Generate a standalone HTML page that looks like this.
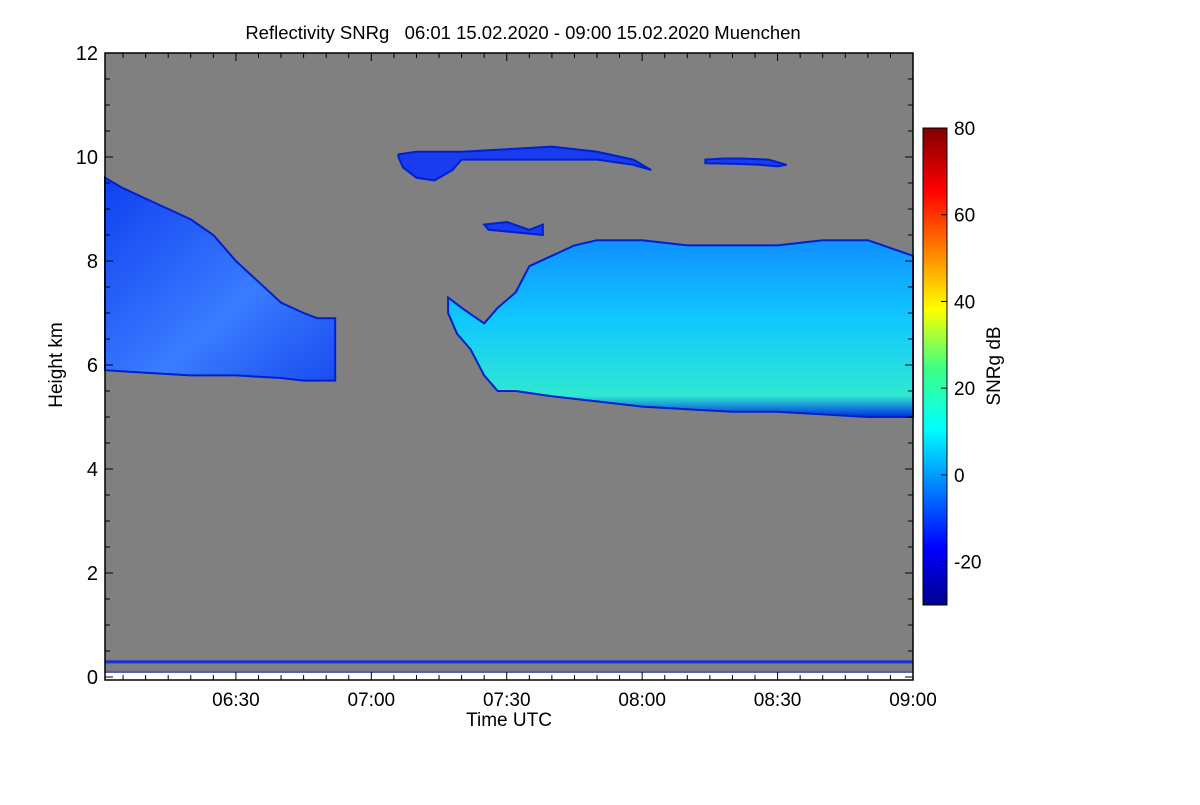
<!DOCTYPE html>
<html><head><meta charset="utf-8"><style>
body{margin:0;background:#fff;}
svg text{font-family:"Liberation Sans",sans-serif;fill:#000;}
</style></head><body>
<svg id="chart" width="1200" height="800" viewBox="0 0 1200 800" xmlns="http://www.w3.org/2000/svg">
<defs>
<linearGradient id="jet" x1="0" y1="1" x2="0" y2="0">
<stop offset="0" stop-color="#00008f"/><stop offset="0.12" stop-color="#0000ff"/><stop offset="0.37" stop-color="#00ffff"/><stop offset="0.5" stop-color="#40ff80"/><stop offset="0.62" stop-color="#ffff00"/><stop offset="0.87" stop-color="#ff0000"/><stop offset="1" stop-color="#800000"/>
</linearGradient>
<linearGradient id="c1" x1="0" y1="0" x2="1" y2="1">
<stop offset="0" stop-color="#1040f0"/><stop offset="0.6" stop-color="#3a7cff"/><stop offset="1" stop-color="#1a4cf0"/>
</linearGradient>
<linearGradient id="c2" x1="0" y1="0" x2="0" y2="1">
<stop offset="0" stop-color="#1090ff"/><stop offset="0.45" stop-color="#10c8ff"/><stop offset="0.88" stop-color="#30e8d0"/><stop offset="1" stop-color="#0030e0"/>
</linearGradient>
</defs>
<text x="523" y="39" font-size="18.5" text-anchor="middle" xml:space="preserve">Reflectivity SNRg   06:01 15.02.2020 - 09:00 15.02.2020 Muenchen</text>
<rect x="105" y="53" width="808" height="620" fill="#808080"/>
<g id="marks"></g>
<rect x="105" y="53" width="808" height="627" fill="none" stroke="#000" stroke-width="1.5"/>
<g id="axes"></g>
<text x="509" y="726" font-size="19" text-anchor="middle">Time UTC</text>
<text transform="translate(62,365) rotate(-90)" font-size="19" text-anchor="middle">Height km</text>
<rect x="923" y="128" width="24" height="477" fill="url(#jet)" stroke="#000" stroke-width="1"/>
<g id="cbar"></g>
<text transform="translate(1000,366) rotate(-90)" font-size="19" text-anchor="middle">SNRg dB</text>
</svg>
<script>
// minutes since 06:00, heights km
const cloud1Time=[1,5,10,15,20,25,30,35,40,45,48,52,52,45,40,30,20,10,1];
const cloud1Height=[9.6,9.4,9.2,9.0,8.8,8.5,8.0,7.6,7.2,7.0,6.9,6.9,5.7,5.7,5.75,5.8,5.8,5.85,5.9];
const cloud2Time=[77,80,85,88,92,95,100,105,110,120,130,140,150,160,170,180,180,170,160,150,140,130,120,110,100,92,88,85,82,79,77];
const cloud2Height=[7.3,7.1,6.8,7.1,7.4,7.9,8.1,8.3,8.4,8.4,8.3,8.3,8.3,8.4,8.4,8.1,5.0,5.0,5.05,5.1,5.1,5.15,5.2,5.3,5.4,5.5,5.5,5.8,6.3,6.6,7.0];
const cirrusTime=[66,70,75,80,90,100,110,118,122,118,110,100,90,80,78,74,70,67,66];
const cirrusHeight=[10.05,10.1,10.1,10.1,10.15,10.2,10.1,9.95,9.75,9.85,9.95,9.95,9.95,9.95,9.75,9.55,9.6,9.8,10.0];
const cirrus2Time=[134,138,142,148,150,152,150,146,140,134];
const cirrus2Height=[9.95,9.97,9.97,9.95,9.9,9.85,9.82,9.85,9.87,9.88];
const patchTime=[85,90,95,98,98,92,86];
const patchHeight=[8.7,8.75,8.6,8.7,8.5,8.55,8.6];
const xTicks=["06:30","07:00","07:30","08:00","08:30","09:00"];
const xTickMin=[30,60,90,120,150,180];
const yTicks=[0,2,4,6,8,10,12];
const cbTicks=[-20,0,20,40,60,80];
const NS="http://www.w3.org/2000/svg";
const X=m=>105+(m-1)*808/179;
const Y=h=>677-52*h;
const CB=v=>605-(v+30)*477/110;
function mk(tag,at,parent){const e=document.createElementNS(NS,tag);for(const k in at)e.setAttribute(k,at[k]);parent.appendChild(e);return e;}
const marks=document.getElementById('marks'),axes=document.getElementById('axes'),cb=document.getElementById('cbar');
function poly(t,h,fill,name){const p=mk('polygon',{points:t.map((m,i)=>X(m)+','+Y(h[i])).join(' '),fill:fill,stroke:'#0020d0','stroke-width':2},marks);

}
poly(cloud1Time,cloud1Height,'url(#c1)','cloud-layer-early');
poly(cloud2Time,cloud2Height,'url(#c2)','cloud-layer-late');
poly(cirrusTime,cirrusHeight,'#1a3cf0','cirrus-layer');
poly(cirrus2Time,cirrus2Height,'#1a3cf0','cirrus-fragment');
poly(patchTime,patchHeight,'#1a3cf0','cloud-patch');
const bl=mk('rect',{x:105,y:Y(0.32),width:808,height:3,fill:'#1030e0'},marks);


const bl2=mk('rect',{x:105,y:Y(0.12),width:808,height:2,fill:'#3050e0',opacity:0.7},marks);


const wb=mk('rect',{x:105,y:673,width:808,height:7,fill:'#fff'},marks);


for(let m=5;m<=180;m+=5){const x=X(m);const big=m%30==0;mk('line',{x1:x,x2:x,y1:680,y2:680-(big?8:5),stroke:'#000'},axes);mk('line',{x1:x,x2:x,y1:53,y2:53+(big?8:5),stroke:'#000'},axes);}
xTicks.forEach((l,i)=>{const t=mk('text',{x:X(xTickMin[i]),y:706,'font-size':19,'text-anchor':'middle'},axes);t.textContent=l;

});
for(let h=0;h<=12;h+=0.5){const y=Y(h);const big=h%2==0;mk('line',{x1:105,x2:105+(big?8:5),y1:y,y2:y,stroke:'#000'},axes);mk('line',{x1:913,x2:913-(big?8:5),y1:y,y2:y,stroke:'#000'},axes);}
yTicks.forEach(v=>{const t=mk('text',{x:98,y:Y(v)+7,'font-size':20,'text-anchor':'end'},axes);t.textContent=v;

});
cbTicks.forEach(v=>{mk('line',{x1:941,x2:947,y1:CB(v),y2:CB(v),stroke:'#000'},cb);const t=mk('text',{x:954,y:CB(v)+7,'font-size':19},cb);t.textContent=v;

});
</script>
</body></html>
